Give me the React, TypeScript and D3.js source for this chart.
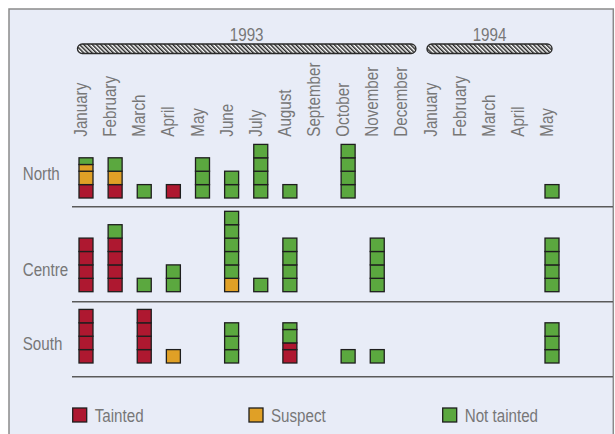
import React from "react";
import * as d3 from "d3";

const months = ["January","February","March","April","May","June","July","August","September","October","November","December","January","February","March","April","May"];
const yearLabels = ["1993", "1994"];
const yearStart = [0, 12];
const yearEnd = [11, 16];
const regions = ["North", "Centre", "South"];
const categories = ["Tainted", "Suspect", "Not tainted"];

const northTainted = [1,1,0,1,0,0,0,0,0,0,0,0,0,0,0,0,0];
const northSuspect = [1.5,1,0,0,0,0,0,0,0,0,0,0,0,0,0,0,0];
const northNot = [0.5,1,1,0,3,2,4,1,0,4,0,0,0,0,0,0,1];

const centreTainted = [4,4,0,0,0,0,0,0,0,0,0,0,0,0,0,0,0];
const centreSuspect = [0,0,0,0,0,1,0,0,0,0,0,0,0,0,0,0,0];
const centreNot = [0,1,1,2,0,5,1,4,0,0,4,0,0,0,0,0,4];

const southTainted = [4,0,4,0,0,0,0,1.5,0,0,0,0,0,0,0,0,0];
const southSuspect = [0,0,0,1,0,0,0,0,0,0,0,0,0,0,0,0,0];
const southNot = [0,0,0,0,0,3,0,1.5,0,1,1,0,0,0,0,0,3];

const regionSeries = [
  [northTainted, northSuspect, northNot],
  [centreTainted, centreSuspect, centreNot],
  [southTainted, southSuspect, southNot],
];

const colors = ["#AE1830", "#E0A026", "#5BA83F"];
const textColor = "#777777";
const FONT = "'Liberation Sans', Arial, sans-serif";
const SX = 0.82;

export default function App() {
  const W = 615, H = 434;
  const x = d3.scalePoint<number>().domain(d3.range(months.length)).range([86, 552]);
  const unit = d3.scaleLinear().domain([0, 1]).range([0, 13.4]);
  const baselines = [198, 291.7, 363];
  const rowLabelY = [180, 276, 350];
  const separators = [206.7, 301.7, 376.7];
  const bw = 14;

  const cells: any[] = [];
  regionSeries.forEach((series, r) => {
    months.forEach((_, m) => {
      let acc = 0;
      series.forEach((vals, c) => {
        const v = vals[m];
        if (!v) return;
        let start = acc;
        const end = acc + v;
        while (start < end - 1e-9) {
          const top = Math.min(start + 1, end);
          cells.push({ r, m, c, y0: start, y1: top });
          start = top;
        }
        acc = end;
      });
    });
  });

  const legendX = [72.7, 249, 442.7];

  const label = (key: string, tx: number, ty: number, txt: string, size: number, anchor: string, rotate = false) => (
    <g key={key} transform={`translate(${tx},${ty})${rotate ? " rotate(-90)" : ""} scale(${SX},1)`}>
      <text fontFamily={FONT} fontSize={size} fill={textColor} textAnchor={anchor}>{txt}</text>
    </g>
  );

  return (
    <svg width={W} height={H} style={{ position: "absolute", left: 0, top: 0 }}>
      <defs>
        <pattern id="hatch" patternUnits="userSpaceOnUse" width="3" height="3" patternTransform="rotate(-45)">
          <rect width="3" height="3" fill="#ffffff" />
          <rect x="0" y="0" width="1.5" height="3" fill="#262626" />
        </pattern>
      </defs>
      <rect x={0} y={0} width={W} height={H} fill="#ffffff" />
      <rect x={9} y={9} width={604.3} height={H} fill="#E8ECF7" stroke="#8a8a8a" strokeWidth={1.5} />

      {yearLabels.map((yl, i) => {
        const x0 = x(yearStart[i])! - 8.5;
        const x1 = Math.min(x(yearEnd[i])! + 9.5, x(months.length - 1)!);
        return (
          <g key={yl}>
            <rect x={x0} y={44} width={x1 - x0} height={9.5} rx={4.75} ry={4.75} fill="url(#hatch)" stroke="#2a2a2a" strokeWidth={1.4} />
            {label("yl" + i, (x0 + x1) / 2, 41, yl, 18.5, "middle")}
          </g>
        );
      })}

      {months.map((mn, i) => label("m" + i, x(i)! + 1, 136.7, mn, 18.5, "start", true))}

      {regions.map((rn, r) => label("r" + r, 22.7, rowLabelY[r], rn, 18.5, "start"))}

      {separators.map((sy, i) => (
        <line key={"s" + i} x1={72} x2={613} y1={sy} y2={sy} stroke="#5a5a5a" strokeWidth={1.5} />
      ))}

      {cells.map((d, i) => {
        const yTop = baselines[d.r] - unit(d.y1);
        const yBot = baselines[d.r] - unit(d.y0);
        return (
          <rect key={"c" + i} x={x(d.m)! - bw / 2} y={yTop} width={bw} height={yBot - yTop}
            fill={colors[d.c]} stroke="#1e1e1e" strokeWidth={1.3} />
        );
      })}

      {categories.map((cn, i) => (
        <g key={"lg" + i}>
          <rect x={legendX[i]} y={408} width={14} height={14} fill={colors[i]} stroke="#1e1e1e" strokeWidth={1.3} />
          {label("lt" + i, legendX[i] + 22, 421.5, cn, 18.5, "start")}
        </g>
      ))}
    </svg>
  );
}
